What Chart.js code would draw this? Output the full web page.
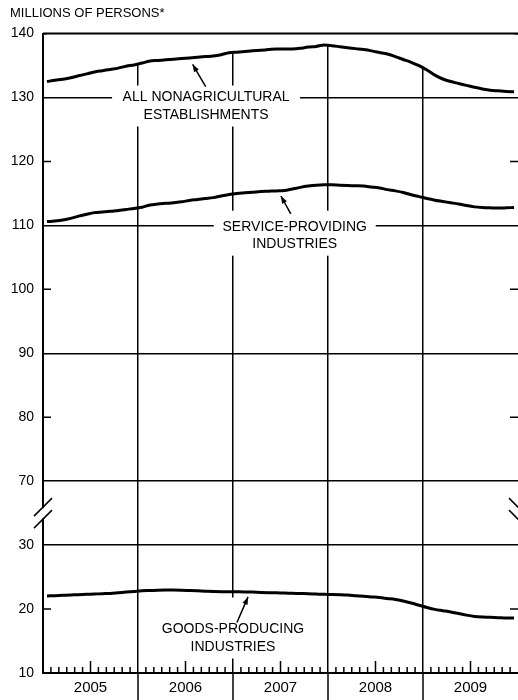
<!DOCTYPE html>
<html>
<head>
<meta charset="utf-8">
<script src="https://cdn.jsdelivr.net/npm/chart.js@4.4.1/dist/chart.umd.min.js"></script>
<style>
  body { margin: 0; background: #fff; }
  #wrap { width: 518px; height: 700px; }
</style>
</head>
<body>
<div id="wrap"><canvas id="grafico"></canvas></div>
<script>
const years = ['2005', '2006', '2007', '2008', '2009'];
const monthNames = ['Jan', 'Feb', 'Mar', 'Apr', 'May', 'Jun', 'Jul', 'Aug', 'Sep', 'Oct', 'Nov', 'Dec'];

// millions of persons, monthly
const allNonag = [
  132.5, 132.7, 132.85, 133.1, 133.4, 133.7, 134.0, 134.2, 134.4, 134.6, 134.9, 135.1,
  135.4, 135.7, 135.8, 135.9, 136.0, 136.1, 136.2, 136.3, 136.4, 136.5, 136.7, 137.0,
  137.1, 137.2, 137.3, 137.4, 137.5, 137.6, 137.6, 137.6, 137.7, 137.9, 138.0, 138.2,
  138.1, 137.95, 137.8, 137.65, 137.5, 137.3, 137.05, 136.8, 136.4, 135.95, 135.5, 135.0,
  134.3, 133.5, 132.9, 132.5, 132.2, 131.9, 131.6, 131.35, 131.15, 131.05, 130.95, 130.9
];
const serviceProviding = [
  110.6, 110.7, 110.85, 111.1, 111.45, 111.75, 112.0, 112.1, 112.2, 112.35, 112.5, 112.65,
  112.85, 113.2, 113.35, 113.45, 113.55, 113.7, 113.9, 114.05, 114.2, 114.35, 114.6, 114.85,
  115.0, 115.1, 115.2, 115.3, 115.35, 115.4, 115.45, 115.7, 115.95, 116.15, 116.3, 116.36,
  116.35, 116.28, 116.23, 116.2, 116.15, 116.0, 115.85, 115.6, 115.4, 115.15, 114.8, 114.5,
  114.2, 113.95, 113.75, 113.55, 113.35, 113.1, 112.9, 112.8, 112.75, 112.72, 112.75, 112.8
];
const goodsProducing = [
  22.05, 22.1, 22.15, 22.2, 22.25, 22.3, 22.35, 22.4, 22.45, 22.55, 22.65, 22.75,
  22.85, 22.9, 22.95, 22.97, 22.97, 22.95, 22.9, 22.85, 22.8, 22.75, 22.72, 22.72,
  22.7, 22.68, 22.65, 22.6, 22.57, 22.55, 22.5, 22.47, 22.43, 22.4, 22.35, 22.3,
  22.28, 22.25, 22.2, 22.1, 22.0, 21.9, 21.8, 21.65, 21.5, 21.25, 20.95, 20.6,
  20.25, 19.95, 19.75, 19.55, 19.3, 19.05, 18.85, 18.75, 18.7, 18.65, 18.6, 18.6
];

const upperTicks = [70, 80, 90, 100, 110, 120, 130, 140];
const lowerTicks = [10, 20, 30];
const fullLines = [140, 130, 110, 90, 70, 30];
const shortTicks = [120, 100, 80, 20];

const months = [];
years.forEach(y => monthNames.forEach(m => months.push(m + ' ' + y)));

const FONT = "'Liberation Sans', Arial, sans-serif";

// text callouts, anchored in data space (x = month position, y = value on axis)
const callouts = [
  { lines: ['ALL NONAGRICULTURAL', 'ESTABLISHMENTS'], axis: 'y', x: 20.6, y: 130, w: 188, padTop: 12,
    from: [20.55, 131.7], to: [18.9, 135.2] },
  { lines: ['SERVICE-PROVIDING', 'INDUSTRIES'], axis: 'y', x: 31.8, y: 109.8, w: 162, padTop: 16,
    from: [31.3, 111.8], to: [30.05, 114.6] },
  { lines: ['GOODS-PRODUCING', 'INDUSTRIES'], axis: 'y2', x: 24, y: 16.8, w: 163, padTop: 32,
    from: [24.5, 17.9], to: [25.9, 21.9] }
];

const toXY = arr => arr.map((v, i) => ({ x: i + 0.5, y: v }));

const decor = {
  id: 'decor',
  beforeDatasetsDraw(chart) {
    const ctx = chart.ctx;
    const xs = chart.scales.x;
    ctx.save();
    ctx.fillStyle = '#fff';
    callouts.forEach(c => {
      const cx = xs.getPixelForValue(c.x);
      const cy = chart.scales[c.axis].getPixelForValue(c.y);
      ctx.fillRect(cx - c.w / 2, cy - c.padTop, c.w, c.padTop + 29);
    });
    ctx.restore();
  },
  afterDatasetsDraw(chart) {
    const ctx = chart.ctx;
    const xs = chart.scales.x;
    const area = chart.chartArea;
    ctx.save();
    ctx.strokeStyle = '#000';
    ctx.fillStyle = '#000';

    // top border
    ctx.lineWidth = 2;
    ctx.beginPath();
    ctx.moveTo(area.left, area.top);
    ctx.lineTo(area.right, area.top);
    ctx.stroke();

    // short ticks on both sides
    ctx.lineWidth = 1.5;
    shortTicks.forEach(v => {
      const s = v >= upperTicks[0] ? chart.scales.y : chart.scales.y2;
      const py = s.getPixelForValue(v);
      ctx.beginPath();
      ctx.moveTo(area.left, py); ctx.lineTo(area.left + 8, py);
      ctx.moveTo(area.right - 8, py); ctx.lineTo(area.right, py);
      ctx.stroke();
    });

    // month ticks on the bottom axis, year separators below it
    for (let j = 1; j < 60; j++) {
      const px = xs.getPixelForValue(j);
      ctx.beginPath();
      if (j % 12 === 0) {
        ctx.moveTo(px, area.bottom); ctx.lineTo(px, chart.height);
      } else {
        ctx.moveTo(px, area.bottom); ctx.lineTo(px, area.bottom - (j % 12 === 6 ? 12 : 6));
      }
      ctx.stroke();
    }

    // scale break marks
    const by = chart.scales.y.bottom;
    ctx.fillStyle = '#fff';
    ctx.fillRect(area.left - 2, by - 5, 4, 10);
    ctx.lineWidth = 1.5;
    [-6, 6].forEach(d => {
      ctx.beginPath();
      ctx.moveTo(area.left - 9, by + d + 9); ctx.lineTo(area.left + 9, by + d - 9);
      ctx.moveTo(area.right - 9, by + d - 9); ctx.lineTo(area.right + 9, by + d + 9);
      ctx.stroke();
    });

    // callouts
    ctx.fillStyle = '#000';
    ctx.font = '14px ' + FONT;
    ctx.textAlign = 'center';
    ctx.textBaseline = 'middle';
    callouts.forEach(c => {
      const s = chart.scales[c.axis];
      const cx = xs.getPixelForValue(c.x);
      const cy = s.getPixelForValue(c.y);
      c.lines.forEach((t, k) => ctx.fillText(t, cx, cy + k * 17.5));
      const x0 = xs.getPixelForValue(c.from[0]), y0 = s.getPixelForValue(c.from[1]);
      const x1 = xs.getPixelForValue(c.to[0]), y1 = s.getPixelForValue(c.to[1]);
      const a = Math.atan2(y1 - y0, x1 - x0);
      ctx.lineWidth = 1.5;
      ctx.beginPath();
      ctx.moveTo(x0, y0); ctx.lineTo(x1, y1);
      ctx.stroke();
      ctx.beginPath();
      ctx.moveTo(x1, y1);
      ctx.lineTo(x1 - 8 * Math.cos(a - 0.35), y1 - 8 * Math.sin(a - 0.35));
      ctx.lineTo(x1 - 8 * Math.cos(a + 0.35), y1 - 8 * Math.sin(a + 0.35));
      ctx.closePath();
      ctx.fill();
    });
    ctx.restore();
  }
};

const lineStyle = {
  borderColor: '#000',
  borderWidth: 3,
  pointRadius: 0,
  cubicInterpolationMode: 'monotone'
};

const yAxis = (min, max, ticks, weight) => ({
  type: 'linear',
  position: 'left',
  stack: 'persons',
  stackWeight: max - min,
  weight: weight,
  min: min,
  max: max,
  afterBuildTicks: s => { s.ticks = ticks.map(v => ({ value: v })); },
  afterFit: s => { s.width = 33; },
  grid: {
    color: c => (c.tick && fullLines.includes(c.tick.value)) ? '#000' : 'rgba(0,0,0,0)',
    lineWidth: 1.5,
    drawTicks: false
  },
  border: { color: '#000', width: 2 },
  ticks: { padding: 9, color: '#000', font: { family: FONT, size: 14 } }
});

const ctx = document.getElementById('grafico').getContext('2d');
new Chart(ctx, {
  type: 'line',
  data: {
    datasets: [
      { label: 'All nonagricultural establishments', data: toXY(allNonag), yAxisID: 'y',
        fill: 'end', backgroundColor: '#fff', ...lineStyle },
      { label: 'Service-providing industries', data: toXY(serviceProviding), yAxisID: 'y', fill: false, ...lineStyle },
      { label: 'Goods-producing industries', data: toXY(goodsProducing), yAxisID: 'y2', fill: false, ...lineStyle }
    ]
  },
  options: {
    responsive: true,
    maintainAspectRatio: false,
    animation: false,
    layout: { padding: { left: 10, right: 0, top: 0, bottom: 0 } },
    plugins: {
      legend: { display: false },
      tooltip: { enabled: false },
      title: {
        display: true,
        text: 'MILLIONS OF PERSONS*',
        align: 'start',
        color: '#000',
        font: { family: FONT, size: 13, weight: 'normal' },
        padding: { top: 6, bottom: 12 }
      }
    },
    scales: {
      x: {
        type: 'linear',
        min: 0,
        max: 60,
        afterBuildTicks: s => { s.ticks = [0, 6, 12, 18, 24, 30, 36, 42, 48, 54, 60].map(v => ({ value: v })); },
        afterFit: s => { s.height = 27; s.paddingRight = 0; s.paddingLeft = 0; },
        grid: {
          color: c => (c.tick && c.tick.value % 12 === 0 && c.tick.value > 0 && c.tick.value < 60) ? '#000' : 'rgba(0,0,0,0)',
          lineWidth: 1.5,
          drawTicks: false
        },
        border: { color: '#000', width: 2 },
        ticks: {
          autoSkip: false,
          maxRotation: 0,
          padding: 6,
          color: '#000',
          font: { family: FONT, size: 15 },
          callback: v => v % 12 === 6 ? years[(v - 6) / 12] : ''
        }
      },
      y: yAxis(65, 140, upperTicks, 2),
      y2: yAxis(10, 35, lowerTicks, 1)
    }
  },
  plugins: [decor]
});
</script>
</body>
</html>
